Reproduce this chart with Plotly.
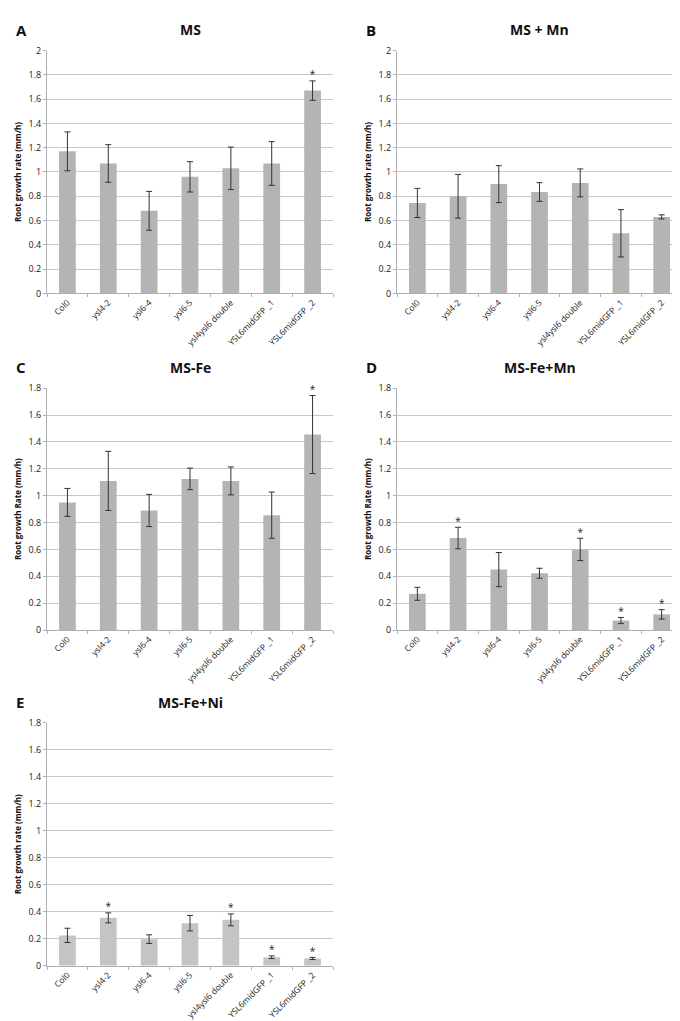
import plotly.graph_objects as go

# genotypes on the x axis (same for every panel)
lines = ["Col0", "ysl4-2", "ysl6-4", "ysl6-5", "ysl4ysl6 double",
         "YSL6midGFP _1", "YSL6midGFP _2"]

# root growth rate (mm/h) and error per condition
ms_val = [1.17, 1.07, 0.68, 0.96, 1.03, 1.07, 1.67]
ms_err = [0.16, 0.155, 0.16, 0.125, 0.175, 0.18, 0.08]
ms_star = [False, False, False, False, False, False, True]

msmn_val = [0.745, 0.80, 0.90, 0.835, 0.91, 0.495, 0.63]
msmn_err = [0.12, 0.18, 0.152, 0.077, 0.115, 0.195, 0.017]
msmn_star = [False] * 7

msfe_val = [0.95, 1.11, 0.89, 1.125, 1.11, 0.855, 1.455]
msfe_err = [0.104, 0.22, 0.12, 0.08, 0.104, 0.172, 0.29]
msfe_star = [False, False, False, False, False, False, True]

msfemn_val = [0.27, 0.685, 0.45, 0.423, 0.60, 0.071, 0.117]
msfemn_err = [0.048, 0.08, 0.127, 0.037, 0.083, 0.023, 0.035]
msfemn_star = [False, True, False, False, True, True, True]

msfeni_val = [0.225, 0.355, 0.197, 0.315, 0.34, 0.063, 0.054]
msfeni_err = [0.053, 0.037, 0.032, 0.057, 0.044, 0.01, 0.008]
msfeni_star = [False, True, False, False, True, True, True]

panels = [
    ("A", "MS", ms_val, ms_err, ms_star, 2.0, "Root growth rate (mm/h)", "#b4b4b4"),
    ("B", "MS + Mn", msmn_val, msmn_err, msmn_star, 2.0, "Root growth rate (mm/h)", "#b4b4b4"),
    ("C", "MS-Fe", msfe_val, msfe_err, msfe_star, 1.8, "Root growth Rate (mm/h)", "#b4b4b4"),
    ("D", "MS-Fe+Mn", msfemn_val, msfemn_err, msfemn_star, 1.8, "Root growth Rate (mm/h)", "#b4b4b4"),
    ("E", "MS-Fe+Ni", msfeni_val, msfeni_err, msfeni_star, 1.8, "Root growth rate (mm/h)", "#c4c4c4"),
]

W, H = 680, 1021
# plot-area boxes in pixels: (left, right, top, bottom)
boxes = [
    (39, 325, 36, 282),
    (389, 674, 36, 282),
    (39, 325, 378, 623),
    (389, 674, 378, 623),
    (39, 325, 717, 963),
]

fig = go.Figure()
font = "Open Sans, Liberation Sans, Arial"

for i, (letter, title, val, err, star, ymax, ytitle, color) in enumerate(panels):
    n = i + 1
    xa = "x" if n == 1 else "x%d" % n
    ya = "y" if n == 1 else "y%d" % n
    left, right, top, bottom = boxes[i]
    fig.add_trace(go.Bar(
        x=lines, y=val, xaxis=xa, yaxis=ya, marker_color=color,
        marker_line_width=0, width=0.41,
        error_y=dict(type="data", array=err, color="#333333",
                     thickness=1, width=3),
        showlegend=False))
    sx = [c for c, s in zip(lines, star) if s]
    sy = [v + e for v, e, s in zip(val, err, star) if s]
    fig.add_trace(go.Scatter(
        x=sx, y=sy, xaxis=xa, yaxis=ya, mode="text", text=["*"] * len(sx),
        textposition="top center", textfont=dict(size=10, color="#222222"),
        showlegend=False, cliponaxis=False))
    xkey = "xaxis" if n == 1 else "xaxis%d" % n
    ykey = "yaxis" if n == 1 else "yaxis%d" % n
    fig.update_layout({
        xkey: dict(domain=[left / W, right / W], anchor=ya,
                   tickangle=-45, tickfont=dict(size=8.5, color="#1a1a1a"),
                   showline=True, linecolor="#b0b0b0", linewidth=1,
                   ticks="outside", ticklen=3, tickcolor="#b0b0b0",
                   tickson="boundaries", showgrid=False, fixedrange=True),
        ykey: dict(domain=[1 - bottom / H, 1 - top / H], anchor=xa,
                   range=[0, ymax], dtick=0.2, tickformat="~g",
                   tickfont=dict(size=9, color="#1a1a1a"),
                   showline=True, linecolor="#b0b0b0", linewidth=1,
                   ticks="outside", ticklen=3, tickcolor="#b0b0b0",
                   showgrid=True, gridcolor="#c8c8c8", gridwidth=1,
                   zeroline=False,
                   title=dict(text="<b>" + ytitle + "</b>",
                              font=dict(size=8, color="#111111"),
                              standoff=5)),
    })
    # panel letter and title
    fig.add_annotation(x=(left - 33) / W, y=1 - (top - 21) / H, xref="paper", yref="paper",
                       text="<b>" + letter + "</b>", showarrow=False,
                       xanchor="left", yanchor="middle",
                       font=dict(size=15, color="#111111", family=font))
    fig.add_annotation(x=(left + right) / 2 / W, y=1 - (top - 21) / H,
                       xref="paper", yref="paper",
                       text="<b>" + title + "</b>", showarrow=False,
                       xanchor="center", yanchor="middle",
                       font=dict(size=14, color="#111111", family=font))

fig.update_layout(width=W, height=H, margin=dict(l=0, r=0, t=0, b=0),
                  paper_bgcolor="white", plot_bgcolor="white",
                  font=dict(family=font), bargap=0.6)

fig.write_html("out.html")
